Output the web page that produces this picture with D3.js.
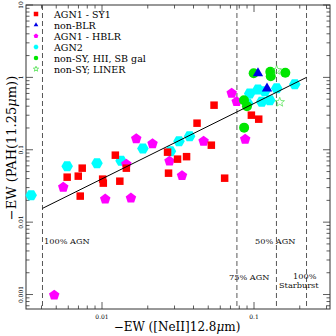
<!DOCTYPE html>
<html>
<head>
<meta charset="utf-8">
<script src="https://cdn.jsdelivr.net/npm/d3@7/dist/d3.min.js"></script>
<style>
  html, body { margin: 0; padding: 0; background: #fff; }
  svg { display: block; font-family: "DejaVu Serif", "Liberation Serif", serif; }
</style>
</head>
<body>
<svg id="chart" width="336" height="336"></svg>
<script>
// AGN1 - SY1 (red squares)
var sy1X = [0.0059, 0.00698, 0.00741, 0.00719, 0.0101, 0.0102, 0.01224, 0.0131, 0.01446, 0.0270,
            0.0314, 0.0360, 0.0274, 0.0422, 0.0546, 0.0524, 0.0961, 0.1074, 0.0641];
var sy1Y = [0.0418, 0.0432, 0.0557, 0.0229, 0.0393, 0.0346, 0.0842, 0.0368, 0.0557, 0.0927,
            0.0742, 0.0803, 0.0475, 0.233, 0.413, 0.1157, 0.3006, 0.2647, 0.0405];
// AGN1 - HBLR (magenta pentagons)
var hblrX = [0.00556, 0.0105, 0.0155, 0.00485, 0.0168, 0.0215, 0.01446, 0.0278, 0.0336, 0.0466,
             0.0713, 0.0769, 0.0875];
var hblrY = [0.0304, 0.0208, 0.0215, 0.00098, 0.142, 0.121, 0.0632, 0.0696, 0.0439, 0.1314,
             0.605, 0.462, 0.140];
// AGN2 (cyan hexagons)
var agn2X = [0.00342, 0.0059, 0.00927, 0.01335, 0.01858, 0.0282, 0.0321, 0.0377, 0.0909, 0.0937,
             0.1062, 0.1124, 0.127, 0.141, 0.1855, 0.1177];
var agn2Y = [0.0236, 0.0594, 0.0653, 0.0707, 0.1042, 0.0957, 0.1314, 0.154, 0.436, 0.599,
             0.681, 0.462, 0.484, 0.709, 0.805, 0.645];
// non-BLR (blue triangles)
var nblrX = [0.1062, 0.1218];
var nblrY = [1.143, 0.702];
// non-SY, HII, SB gal (green circles)
var hiiX = [0.0995, 0.128, 0.1289, 0.1607, 0.0859, 0.0899, 0.0861];
var hiiY = [1.143, 1.199, 1.039, 1.161, 0.484, 0.400, 0.202];
// non-SY; LINER (green open stars)
var linerX = [0.141, 0.1477];
var linerY = [1.257, 0.454];

// fit line and mixing lines
var fitX = [0.00406, 0.2216];
var fitY = [0.0155, 1.0];
var mixX = [0.00406, 0.0772, 0.1405, 0.2216];

var legendLabels = ['AGN1 - SY1', 'non-BLR', 'AGN1 - HBLR', 'AGN2',
                    'non-SY, HII, SB gal', 'non-SY; LINER'];
var xTickVals = [0.01, 0.1];
var xTickText = ['0.01', '0.1'];
var yTickVals = [0.001, 0.01, 0.1, 1, 10];
var yTickText = ['0.001', '0.01', '0.1', '1', '10'];

(function () {
  var svg = d3.select('#chart');
  var pL = 26, pR = 330, pT = 5, pB = 309;

  var x = d3.scaleLog().domain([Math.pow(10, -2.5), Math.pow(10, -0.5)]).range([pL, pR]);
  var y = d3.scaleLog().domain([Math.pow(10, -3.2), 10]).range([pB, pT]);

  function ptsPath(pts) {
    return 'M' + pts.map(function (p) { return p[0].toFixed(2) + ',' + p[1].toFixed(2); }).join('L') + 'Z';
  }
  function polyPath(n, r, rot) {
    return ptsPath(d3.range(n).map(function (i) {
      var a = rot + i * 2 * Math.PI / n;
      return [r * Math.cos(a), r * Math.sin(a)];
    }));
  }
  function starPath(r) {
    return ptsPath(d3.range(10).map(function (i) {
      var a = -Math.PI / 2 + i * Math.PI / 5;
      var rr = i % 2 === 0 ? r : r * 0.42;
      return [rr * Math.cos(a), rr * Math.sin(a)];
    }));
  }

  var shapes = {
    square: function (s) { return d3.symbol(d3.symbolSquare, s * s)(); },
    triangle: function (s) { return polyPath(3, s * 0.6, -Math.PI / 2); },
    pentagon: function (s) { return polyPath(5, s * 0.55, -Math.PI / 2); },
    hexagon: function (s) { return polyPath(6, s * 0.55, 0); },
    circle: function (s) { return d3.symbol(d3.symbolCircle, Math.PI * s * s / 4)(); },
    star: function (s) { return starPath(s * 0.55); }
  };

  // minor ticks
  var minorX = [];
  [0.001, 0.01, 0.1].forEach(function (d) {
    for (var k = 2; k <= 9; k++) {
      var v = d * k;
      if (v >= x.domain()[0] && v <= x.domain()[1]) minorX.push(v);
    }
  });
  var minorY = [];
  [0.0001, 0.001, 0.01, 0.1, 1].forEach(function (d) {
    for (var k = 2; k <= 9; k++) {
      var v = d * k;
      if (v >= y.domain()[0] && v <= y.domain()[1]) minorY.push(v);
    }
  });

  var tickColor = '#333';
  var ticks = svg.append('g').attr('stroke', tickColor).attr('stroke-width', 0.8);
  function vTicks(vals, len) {
    vals.forEach(function (v) {
      ticks.append('line').attr('x1', x(v)).attr('x2', x(v)).attr('y1', pB).attr('y2', pB - len);
      ticks.append('line').attr('x1', x(v)).attr('x2', x(v)).attr('y1', pT).attr('y2', pT + len);
    });
  }
  function hTicks(vals, len) {
    vals.forEach(function (v) {
      ticks.append('line').attr('y1', y(v)).attr('y2', y(v)).attr('x1', pL).attr('x2', pL + len);
      ticks.append('line').attr('y1', y(v)).attr('y2', y(v)).attr('x1', pR).attr('x2', pR - len);
    });
  }
  vTicks(xTickVals, 7);
  vTicks(minorX, 3.5);
  hTicks(yTickVals, 7);
  hTicks(minorY, 3.5);

  // frame
  svg.append('rect')
    .attr('x', pL).attr('y', pT)
    .attr('width', pR - pL).attr('height', pB - pT)
    .attr('fill', 'none').attr('stroke', tickColor).attr('stroke-width', 1);

  // tick labels
  svg.append('g').selectAll('text')
    .data(xTickVals)
    .join('text')
    .attr('x', function (d) { return x(d); })
    .attr('y', pB + 10)
    .attr('text-anchor', 'middle')
    .attr('font-size', 6)
    .text(function (d, i) { return xTickText[i]; });

  svg.append('g').selectAll('text')
    .data(yTickVals)
    .join('text')
    .attr('transform', function (d) { return 'translate(' + (pL - 3) + ',' + y(d) + ') rotate(-90)'; })
    .attr('text-anchor', 'middle')
    .attr('font-size', 6)
    .text(function (d, i) { return yTickText[i]; });

  // dashed mixing lines
  svg.append('g').selectAll('line')
    .data(mixX)
    .join('line')
    .attr('x1', function (d) { return x(d); })
    .attr('x2', function (d) { return x(d); })
    .attr('y1', pT).attr('y2', pB)
    .attr('stroke', '#444').attr('stroke-width', 0.9)
    .attr('stroke-dasharray', '5,3');

  // region labels
  var regionLabels = [
    { t: '100% AGN', x: 44, y: 244 },
    { t: '50% AGN', x: 255, y: 244 },
    { t: '75% AGN', x: 229, y: 280 },
    { t: '100%', x: 293, y: 279 },
    { t: 'Starburst', x: 279, y: 288 }
  ];
  svg.append('g').selectAll('text')
    .data(regionLabels)
    .join('text')
    .attr('x', function (d) { return d.x; })
    .attr('y', function (d) { return d.y; })
    .attr('font-size', 8.2)
    .attr('fill', '#111')
    .text(function (d) { return d.t; });

  // points
  function drawSeries(xs, ys, shape, size, fill, stroke) {
    svg.append('g').selectAll('path')
      .data(xs)
      .join('path')
      .attr('transform', function (d, i) { return 'translate(' + x(d) + ',' + y(ys[i]) + ')'; })
      .attr('d', shapes[shape](size))
      .attr('fill', fill)
      .attr('stroke', stroke || 'none')
      .attr('stroke-width', stroke ? 0.6 : 0);
  }
  drawSeries(agn2X, agn2Y, 'hexagon', 10.5, '#00ffff');
  drawSeries(hblrX, hblrY, 'pentagon', 10, '#ff00ff');
  drawSeries(sy1X, sy1Y, 'square', 7.5, '#ff0000');
  drawSeries(hiiX, hiiY, 'circle', 10, '#00e600');
  drawSeries(nblrX, nblrY, 'triangle', 10, '#0000e6');
  drawSeries(linerX, linerY, 'star', 9, 'none', '#33dd33');

  // fit line
  svg.append('line')
    .attr('x1', x(fitX[0])).attr('y1', y(fitY[0]))
    .attr('x2', x(fitX[1])).attr('y2', y(fitY[1]))
    .attr('stroke', '#000').attr('stroke-width', 1);

  // legend
  var legendShapes = ['square', 'triangle', 'pentagon', 'hexagon', 'circle', 'star'];
  var legendColors = ['#ff0000', '#0000e6', '#ff00ff', '#00ffff', '#00e600', '#33dd33'];
  var legend = svg.append('g');
  legendLabels.forEach(function (lab, i) {
    var ly = 14 + i * 11;
    var isStar = legendShapes[i] === 'star';
    legend.append('path')
      .attr('transform', 'translate(36,' + ly + ')')
      .attr('d', shapes[legendShapes[i]](isStar ? 5 : 4.5))
      .attr('fill', isStar ? 'none' : legendColors[i])
      .attr('stroke', isStar ? legendColors[i] : 'none')
      .attr('stroke-width', 0.7);
    legend.append('text')
      .attr('x', 54).attr('y', ly + 3.5)
      .attr('font-size', 9.5)
      .text(lab);
  });

  // axis titles
  var xt = svg.append('text')
    .attr('x', 177).attr('y', 331)
    .attr('text-anchor', 'middle')
    .attr('font-size', 12);
  xt.append('tspan').text('\u2212EW ([NeII]12.8');
  xt.append('tspan').attr('font-style', 'italic').text('\u03bc');
  xt.append('tspan').text('m)');

  var yt = svg.append('text')
    .attr('transform', 'translate(16,148) rotate(-90)')
    .attr('text-anchor', 'middle')
    .attr('font-size', 13);
  yt.append('tspan').text('\u2212EW (PAH(11.25');
  yt.append('tspan').attr('font-style', 'italic').text('\u03bc');
  yt.append('tspan').text('m))');
})();
</script>
</body>
</html>
